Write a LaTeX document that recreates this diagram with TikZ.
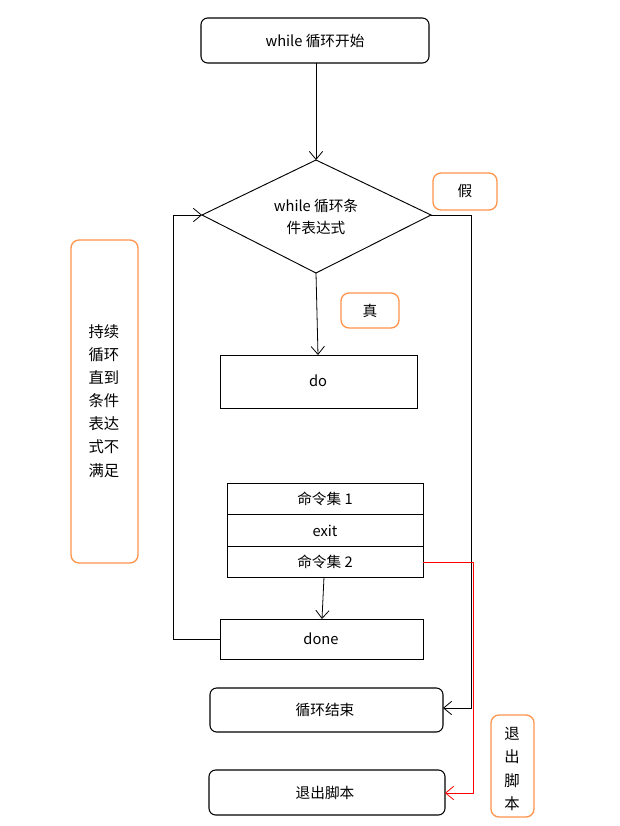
\documentclass[tikz,border=0pt]{standalone}
\usepackage{fontspec}
\setmainfont{Noto Sans CJK SC}
\usetikzlibrary{arrows.meta}
\begin{document}
\begin{tikzpicture}[x=0.75pt,y=-0.75pt,font=\fontsize{11}{15}\selectfont,
  box/.style={draw,line width=0.7pt},
  rbox/.style={draw,line width=0.8pt,rounded corners=5pt},
  obox/.style={draw=orange!80!red!70,line width=1pt,rounded corners=6pt},
  arr/.style={-{Straight Barb[length=6pt,width=10pt]},line width=0.6pt}]
\useasboundingbox (0,0) rectangle (620,826);
\draw[rbox] (201,18) rectangle (429,63); \node (start) at (315,41) {while 循环开始};
\coordinate (startb) at (316,63);
\draw[line width=0.7pt] (316,160) coordinate (dt) -- (431,215) coordinate (dr) -- (316,273) coordinate (db) -- (202,215) coordinate (dl) -- cycle;
\node[align=center,font=\fontsize{11}{17}\selectfont] (cond) at (316,217) {while 循环条\\件表达式};
\draw[obox] (433,173) rectangle (497,210); \node (f) at (465,191) {假};
\draw[obox] (341,293) rectangle (399,328); \node (t) at (370,311) {真};
\draw[box] (220,355) rectangle (417,408); \node (do) at (318,381) {do};
\coordinate (dotop) at (318,355);
\draw[box] (227,483) rectangle (423,577);
\draw[box] (227,514) -- (423,514) (227,546) -- (423,546);
\node (c1) at (325,499) {命令集 1};
\node (ex) at (325,531) {exit};
\node (c2) at (325,562) {命令集 2};
\coordinate (stb) at (324,577);
\draw[box] (220,619) rectangle (423,659); \node (done) at (321,639) {done};
\coordinate (donet) at (322,619); \coordinate (donel) at (220,639);
\draw[rbox] (210,688) rectangle (443,732); \node (end) at (325,710) {循环结束};
\coordinate (endr) at (443,708);
\draw[rbox] (209,770) rectangle (445,815); \node (quit) at (325,793) {退出脚本};
\coordinate (quitr) at (445,793);
\draw[obox] (71,240) rectangle (138,563);
\node[align=center,font=\fontsize{11.5}{17.3}\selectfont] (note) at (104,401) {持续\\循环\\直到\\条件\\表达\\式不\\满足};
\draw[obox] (491,715) rectangle (534,817);
\node[align=center,font=\fontsize{11.5}{17.3}\selectfont] (note2) at (512,769) {退\\出\\脚\\本};
\draw[arr] (startb) -- (dt);
\draw[arr] (db) -- (dotop);
\draw[arr] (stb) -- (donet);
\draw[arr] (donel) -- (173,639) -- (173,215) -- (dl);
\draw[arr] (dr) -- (471,215) -- (471,708) -- (endr);
\draw[arr,red] (423,562) -- (473,562) -- (473,793) -- (quitr);
\end{tikzpicture}
\end{document}
